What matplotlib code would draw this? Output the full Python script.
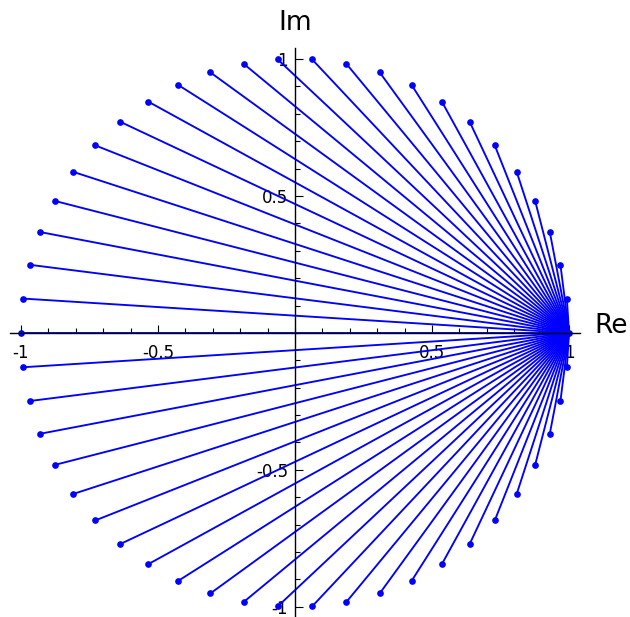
import numpy as np
import matplotlib.pyplot as plt
import matplotlib.transforms as mtransforms
from matplotlib.ticker import MultipleLocator, FixedLocator

# endpoints on the unit circle, angle in degrees (lines start at 1+0i)
angles_deg = [0, 7.2, 14.4, 21.6, 28.8, 36, 43.2, 50.4, 57.6, 64.8,
              72, 79.2, 86.4, 93.6, 100.8, 108, 115.2, 122.4, 129.6, 136.8,
              144, 151.2, 158.4, 165.6, 172.8, 180, 187.2, 194.4, 201.6, 208.8,
              216, 223.2, 230.4, 237.6, 244.8, 252, 259.2, 266.4, 273.6, 280.8,
              288, 295.2, 302.4, 309.6, 316.8, 324, 331.2, 338.4, 345.6, 352.8]
start_re, start_im = 1.0, 0.0

xticks = [-1, -0.5, 0.5, 1]
xtick_labels = ["-1", "-0.5", "0.5", "1"]
yticks = [-1, -0.5, 0.5, 1]
ytick_labels = ["-1", "-0.5", "0.5", "1"]

theta = np.radians(angles_deg)
end_re = np.cos(theta)
end_im = np.sin(theta)

fig = plt.figure(figsize=(6.3, 6.17), dpi=100)
ax = fig.add_axes([10 / 630, 0.0, 570 / 630, 569 / 617])
ax.set_xlim(-1.04, 1.04)
ax.set_ylim(-1.037, 1.04)

blue = "#0000ff"
for xr, yi in zip(end_re, end_im):
    ax.plot([start_re, xr], [start_im, yi], color=blue, lw=1.35, zorder=2)
ax.plot(end_re, end_im, "o", color=blue, ms=3.8, zorder=3)

# sage style axes through the origin
for s in ["top", "right"]:
    ax.spines[s].set_visible(False)
ax.spines["left"].set_position(("data", 0))
ax.spines["bottom"].set_position(("data", 0))
for s in ["left", "bottom"]:
    ax.spines[s].set_linewidth(1.0)
    ax.spines[s].set_zorder(4)

ax.xaxis.set_major_locator(FixedLocator(xticks))
ax.yaxis.set_major_locator(FixedLocator(yticks))
ax.xaxis.set_minor_locator(MultipleLocator(0.1))
ax.yaxis.set_minor_locator(MultipleLocator(0.1))
ax.set_xticklabels(xtick_labels)
ax.set_yticklabels(ytick_labels)
ax.tick_params(which="major", direction="in", length=6, width=0.8, labelsize=12, pad=8)
ax.tick_params(which="minor", direction="in", length=3.5, width=0.8)
ax.tick_params(axis="y", pad=5)

trans = mtransforms.blended_transform_factory(ax.transAxes, ax.transData)
ax.text(1.026, 0, "Re", transform=trans, fontsize=19, ha="left", va="baseline")
trans2 = mtransforms.blended_transform_factory(ax.transData, fig.transFigure)
ax.text(0, (617 - 30) / 617, "Im", transform=trans2, fontsize=19, ha="center", va="baseline")

fig.savefig("out.png", dpi=100)
